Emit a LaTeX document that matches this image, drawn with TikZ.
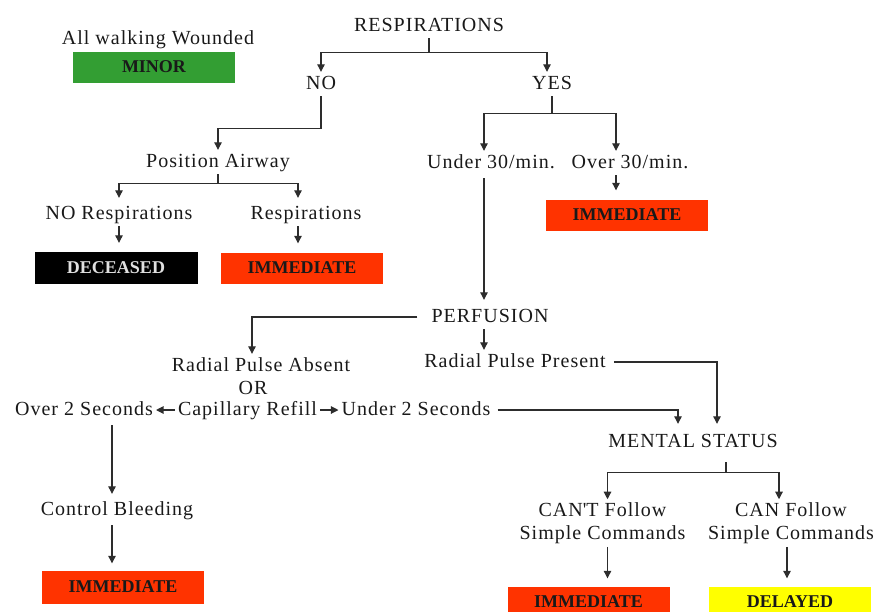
\documentclass[tikz,border=0pt]{standalone}
\usepackage{fontspec}
\setmainfont{Liberation Serif}[LetterSpace=5]
\newfontfamily\tagfont{Liberation Serif}
\usetikzlibrary{arrows.meta}

\definecolor{minorgreen}{RGB}{51,158,51}
\definecolor{immred}{RGB}{255,51,0}
\definecolor{delyellow}{RGB}{255,255,0}
\definecolor{linegray}{RGB}{45,45,45}

\tikzset{
  lbl/.style={inner sep=3pt, text height=14pt, text depth=4pt, font=\fontsize{20}{23}\selectfont, text=black!90},
  lbltwo/.style={inner sep=3pt, align=center, font=\fontsize{20}{23}\selectfont, text=black!90},
  tag/.style={minimum width=162pt, minimum height=31pt, inner sep=0pt, font=\tagfont\bfseries\fontsize{18}{20}\selectfont, text=black!90},
  ln/.style={draw=linegray, line width=1.1pt},
  arr/.style={ln, -{Triangle[width=7.5pt,length=7.5pt]}}
}

\begin{document}
\begin{tikzpicture}[x=1pt,y=-1pt]
\useasboundingbox (0,0) rectangle (875,611);
% \draw[help lines] (0,0) grid[step=50] (875,611);

\node[lbl] (walk) at (158,39) {All walking Wounded};
\node[tag, fill=minorgreen] (minor) at (154,67) {MINOR};

\node[lbl] (resp) at (429,26) {RESPIRATIONS};
\node[lbl] (no) at (321,84) {NO};
\node[lbl] (yes) at (552,84) {YES};

\node[lbl] (pos) at (218,162) {Position Airway};
\node[lbl] (norsp) at (119,214) {NO Respirations};
\node[lbl] (rsp) at (306,214) {Respirations};
\node[tag, fill=black, text=black!12, minimum width=163pt, minimum height=32pt] (dec) at (116,268) {DECEASED};
\node[tag, fill=immred] (immA) at (302,268) {IMMEDIATE};

\node[lbl] (under) at (491,163) {Under 30/min.};
\node[lbl] (over) at (630,163) {Over 30/min.};
\node[tag, fill=immred] (immB) at (627,215) {IMMEDIATE};

\node[lbl] (perf) at (490,317) {PERFUSION};
\node[lbl] (absent) at (261,366) {Radial Pulse Absent};
\node[lbl] (orr) at (253,389) {OR};
\node[lbl] (present) at (515,362) {Radial Pulse Present};

\node[lbl] (overtwo) at (84,410) {Over 2 Seconds};
\node[lbl] (cap) at (247.5,410) {Capillary Refill};
\node[lbl] (undertwo) at (416,410) {Under 2 Seconds};

\node[lbl] (bleed) at (117,510) {Control Bleeding};
\node[tag, fill=immred, minimum height=33pt] (immD) at (123,587) {IMMEDIATE};

\node[lbl] (ment) at (693,442) {MENTAL STATUS};
\node[lbltwo] (cant) at (602.5,523) {CAN\textquotesingle T Follow\\Simple Commands};
\node[lbltwo] (can) at (791,523) {CAN Follow\\Simple Commands};
\node[tag, fill=immred] (immC) at (588.5,602) {IMMEDIATE};
\node[tag, fill=delyellow] (del) at (790,602) {DELAYED};

% respirations
\draw[ln] (resp.south) -- ++(0,14) coordinate (r1);
\draw[arr] (r1) -| (no.north);
\draw[arr] (r1) -| ([xshift=-5pt]yes.north);

% no branch
\draw[arr] (no.south) -- ++(0,32) -| (pos.north);
\draw[ln] (pos.south) -- ++(0,9) coordinate (p1);
\draw[arr, shorten >=4pt] (p1) -| (norsp.north);
\draw[arr, shorten >=4pt] (p1) -| ([xshift=-8pt]rsp.north);
\draw[arr, shorten >=9pt] (norsp.south) -- (norsp.south |- dec.north);
\coordinate (rs) at ([xshift=-8pt]rsp.south);
\draw[arr, shorten >=9pt] (rs) -- (rs |- immA.north);

% yes branch
\draw[ln] (yes.south) -- ++(0,17) coordinate (y1);
\draw[arr] (y1) -| ([xshift=-7pt]under.north);
\draw[arr] (y1) -| ([xshift=-14pt]over.north);
\coordinate (ov) at ([xshift=-14pt]over.south);
\draw[arr, shorten >=9pt] (ov) -- (ov |- immB.north);
\coordinate (un) at ([xshift=-7pt]under.south);
\draw[arr, shorten <=3pt, shorten >=5pt] (un) -- (un |- perf.north);

% perfusion
\draw[arr, shorten <=11pt] (perf.west) -| ([xshift=-9pt]absent.north);
\coordinate (pf) at ([xshift=-6pt]perf.south);
\draw[arr] (pf) -- (pf |- present.north);
\draw[arr] (cap.west) -- (overtwo.east);
\draw[arr] (cap.east) -- (undertwo.west);
\draw[arr, shorten <=4pt, shorten >=6pt] (undertwo.east) -| ([xshift=-15pt]ment.north);
\draw[arr, shorten <=5pt, shorten >=6pt] (present.east) -| ([xshift=24pt]ment.north);

\coordinate (o2) at ([xshift=28pt]overtwo.south);
\draw[arr, shorten <=3pt, shorten >=4pt] (o2) -- (o2 |- bleed.north);
\coordinate (bl) at ([xshift=-5pt]bleed.south);
\draw[arr, shorten <=3pt, shorten >=7pt] (bl) -- (bl |- immD.north);

% mental status
\draw[ln, shorten <=8pt] ([xshift=33pt]ment.south) -- ++(0,18) coordinate (m1);
\draw[arr] (m1) -| ([xshift=5pt]cant.north);
\draw[arr] (m1) -| ([xshift=-12pt]can.north);
\coordinate (ct) at ([xshift=5pt]cant.south);
\draw[arr, shorten >=8pt] (ct) -- (ct |- immC.north);
\coordinate (cn) at ([xshift=-4pt]can.south);
\draw[arr, shorten >=8pt] (cn) -- (cn |- del.north);

\end{tikzpicture}
\end{document}
